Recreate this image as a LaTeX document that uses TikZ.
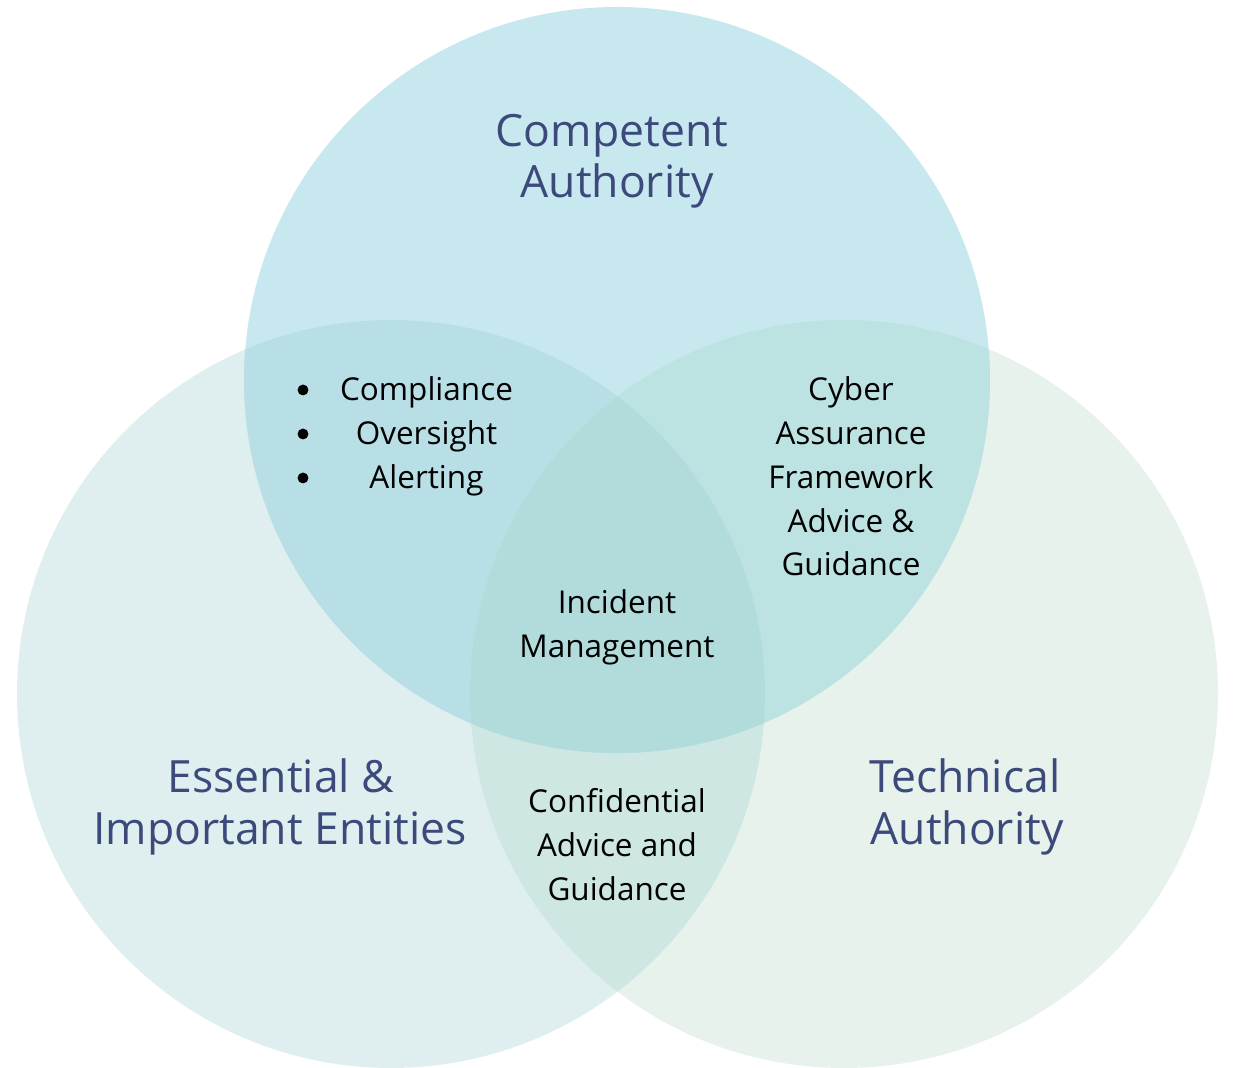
\documentclass[tikz,border=0pt]{standalone}
\usepackage{fontspec}
\setmainfont{Open Sans}
\definecolor{ctop}{HTML}{C8E8EF}
\definecolor{cleft}{HTML}{DFEFF0}
\definecolor{cright}{HTML}{E6F2EB}
\definecolor{ctl}{HTML}{B8DFE6}
\definecolor{ctr}{HTML}{BDE2E2}
\definecolor{clr}{HTML}{CEE7E3}
\definecolor{call}{HTML}{B2DCDB}
\definecolor{titlecol}{HTML}{3B4A7B}
\begin{document}
\begin{tikzpicture}[x=0.01cm,y=-0.01cm,
  title/.style={anchor=base,inner sep=0pt,text=titlecol,font=\fontsize{12.65}{15}\selectfont},
  body/.style={anchor=base,inner sep=0pt,text=black,font=\fontsize{8.95}{12}\selectfont},
  bulletdot/.style={circle,fill=black,inner sep=0pt,minimum size=3.1pt}]
\useasboundingbox (0,0) rectangle (1235,1068);
\def\topc{(617,380) circle [radius=373]}
\def\leftc{(391,694) circle [radius=374]}
\def\rightc{(844,694) circle [radius=374]}
% circles
\fill[cleft] \leftc;
\fill[cright] \rightc;
\fill[ctop] \topc;
\begin{scope}\clip \leftc; \fill[clr] \rightc; \end{scope}
\begin{scope}\clip \topc; \fill[ctl] \leftc; \end{scope}
\begin{scope}\clip \topc; \fill[ctr] \rightc; \end{scope}
\begin{scope}\clip \topc; \clip \leftc; \fill[call] \rightc; \end{scope}
% titles
\node[title] (ca1) at (612,147) {Competent};
\node[title] (ca2) at (617,198) {Authority};
\node[title] (ei1) at (281,793) {Essential \&};
\node[title] (ei2) at (280,845) {Important Entities};
\node[title] (ta1) at (965,793) {Technical};
\node[title] (ta2) at (967,845) {Authority};
% bullets
\node[bulletdot] (b1) at (303,390) {};
\node[bulletdot] (b2) at (303,434) {};
\node[bulletdot] (b3) at (303,478) {};
\node[body] (l1) at (426.5,401) {Compliance};
\node[body] (l2) at (426.5,445) {Oversight};
\node[body] (l3) at (426.5,489) {Alerting};
% cyber
\node[body] (c1) at (851,401) {Cyber};
\node[body] (c2) at (851,445) {Assurance};
\node[body] (c3) at (851,489) {Framework};
\node[body] (c4) at (851,533) {Advice \&};
\node[body] (c5) at (851,576) {Guidance};
% incident
\node[body] (i1) at (617,614) {Incident};
\node[body] (i2) at (617,658) {Management};
% confidential
\node[body] (f1) at (617,813) {Confidential};
\node[body] (f2) at (617,857) {Advice and};
\node[body] (f3) at (617,901) {Guidance};
\end{tikzpicture}
\end{document}
